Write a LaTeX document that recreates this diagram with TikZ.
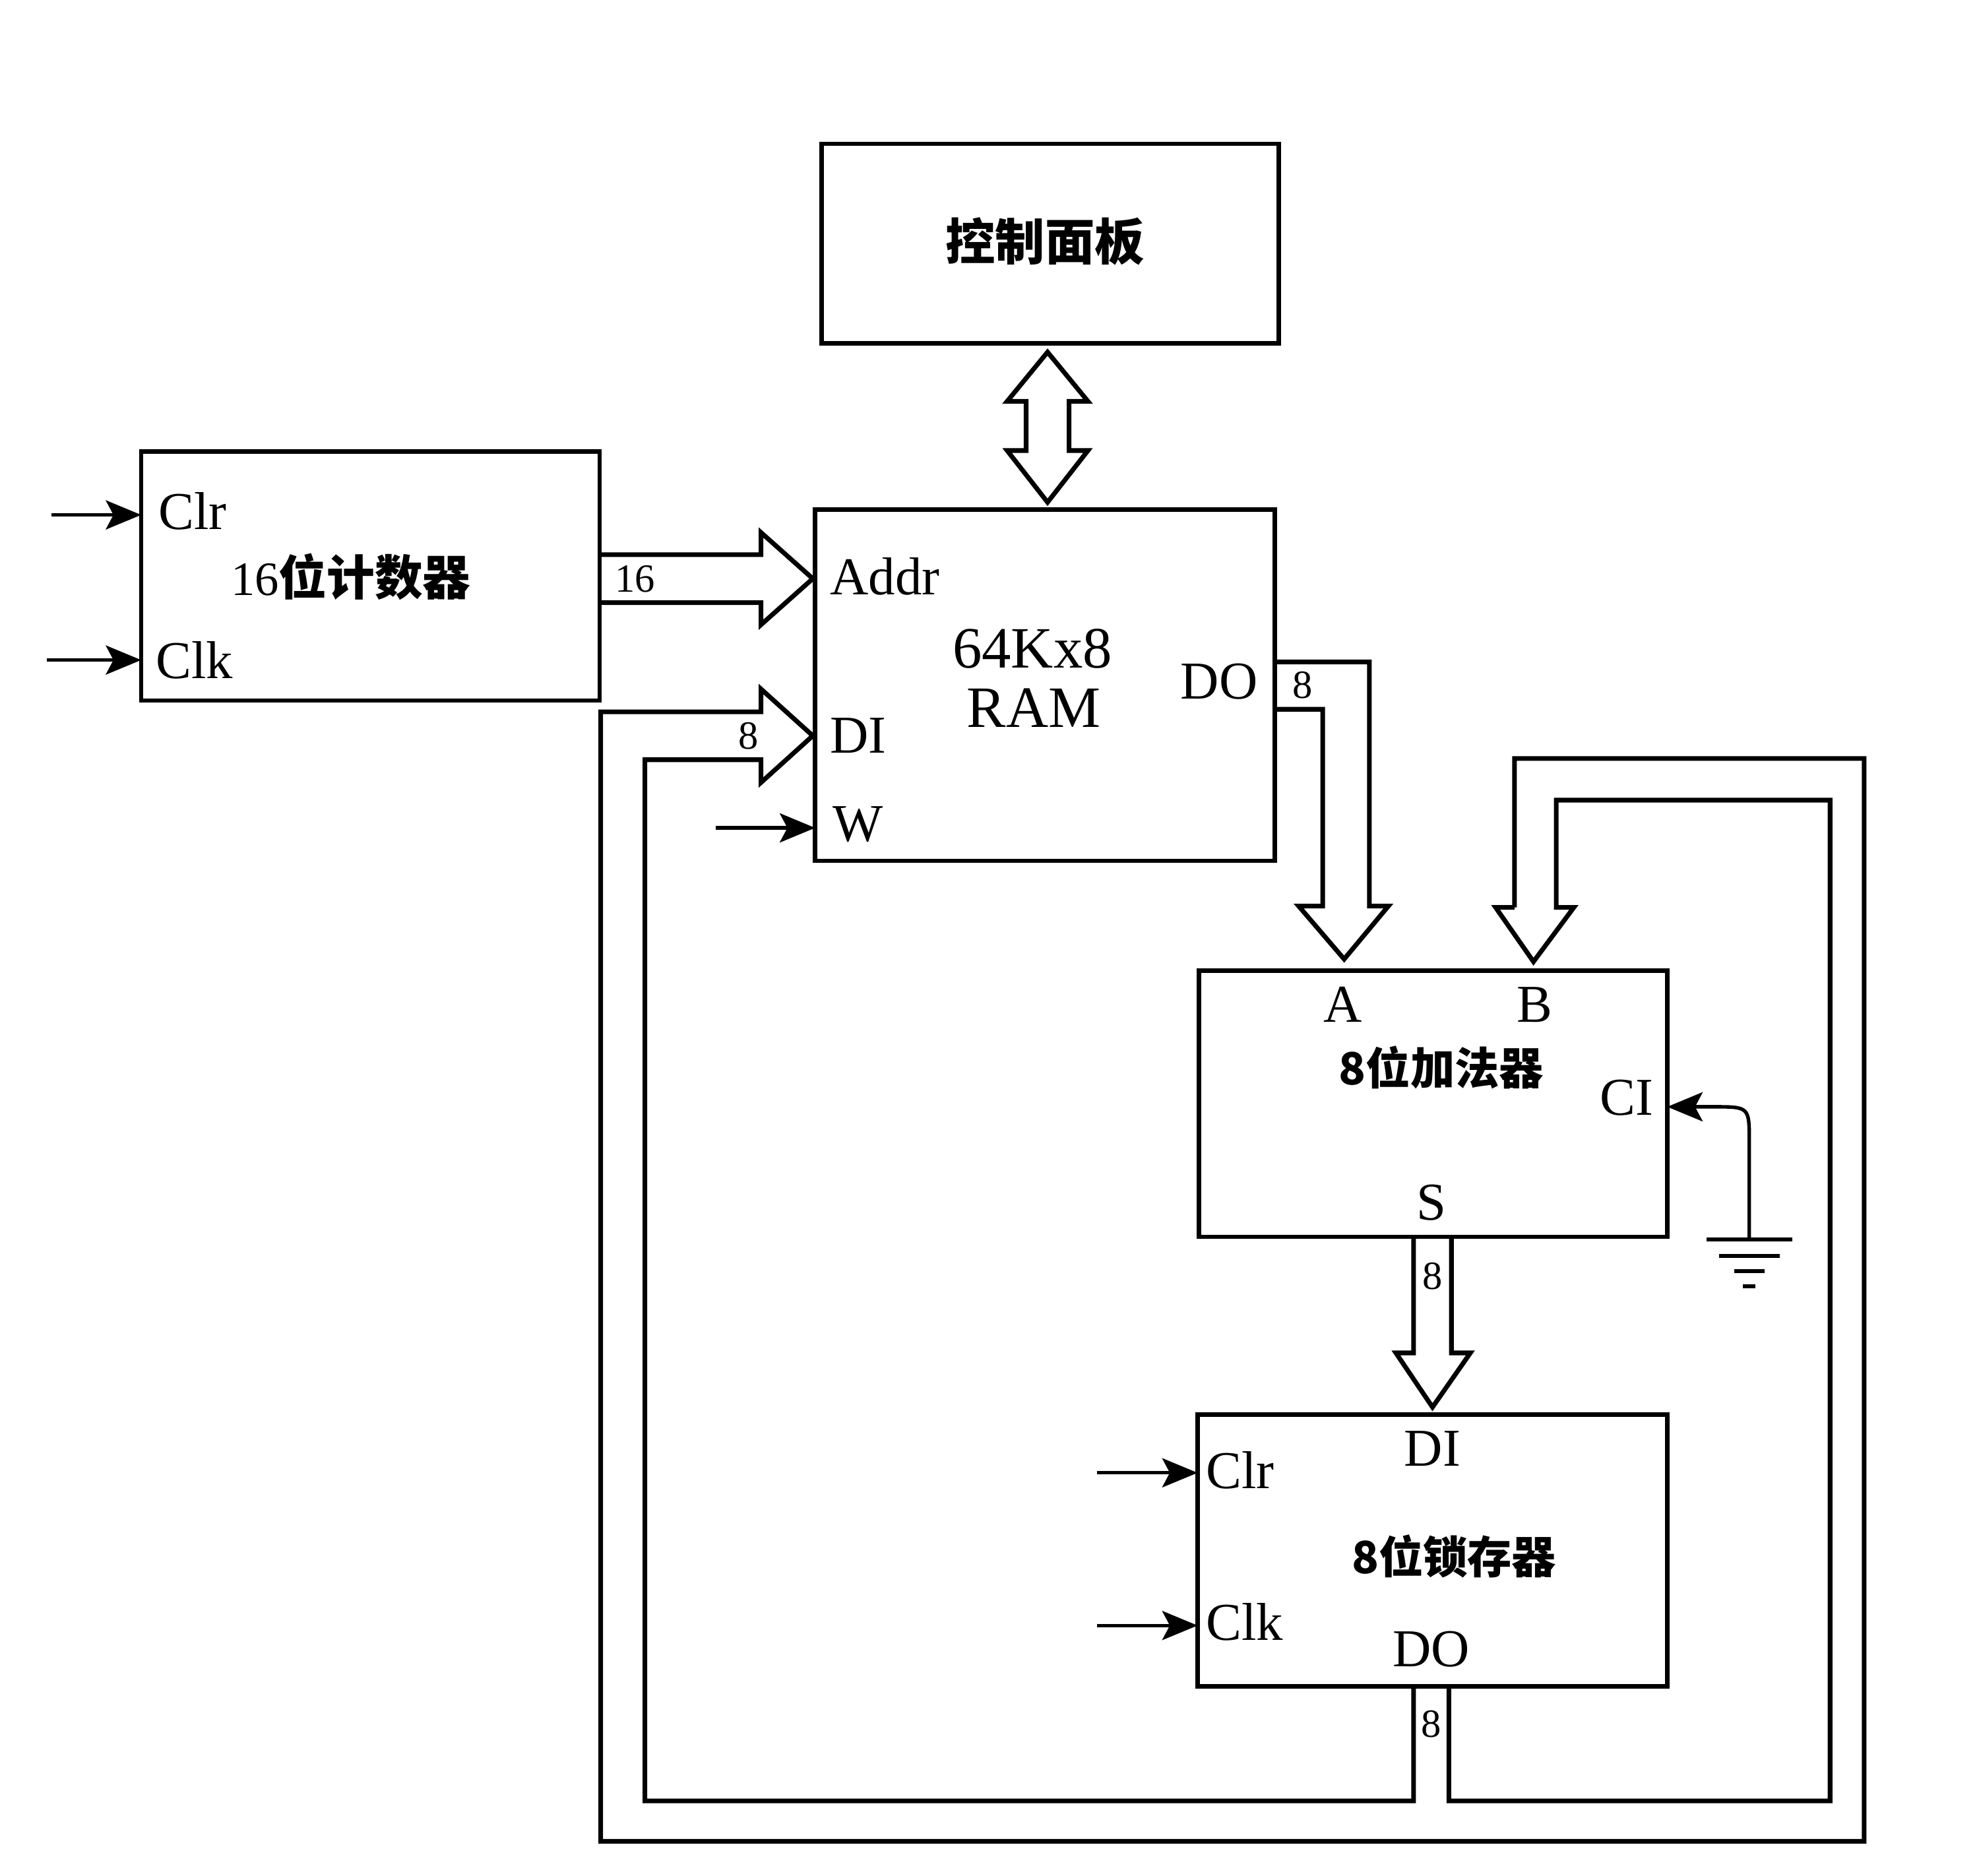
\documentclass[tikz,border=0pt]{standalone}
\usepackage{fontspec}
\setmainfont{Liberation Serif}
\newfontfamily\cjk{Noto Sans CJK SC}
\usetikzlibrary{arrows.meta}

\begin{document}
\begin{tikzpicture}[x=0.01cm,y=-0.01cm,
  block/.style={draw,line width=1pt,inner sep=0pt,outer sep=0pt},
  bus/.style={draw,line width=1.05pt,line join=miter},
  sig/.style={line width=0.8pt,-{Stealth[length=2.8mm,width=2.3mm,inset=0.6mm]}},
  pin/.style={inner sep=0pt,font=\fontsize{12pt}{14pt}\selectfont},
  buswidth/.style={inner sep=0pt,font=\fontsize{9pt}{10pt}\selectfont},
  title/.style={inner sep=0pt,font=\cjk\bfseries\fontsize{10pt}{12pt}\selectfont}]

% page frame
\fill[white] (0,0) rectangle (1568,1486);
\useasboundingbox (0,0) rectangle (1568,1486);

% ---------- blocks ----------
\node[block,minimum width=3.62cm,minimum height=1.58cm] (panel) at (832,193) {};
\node[block,minimum width=3.63cm,minimum height=1.97cm] (counter) at (293.5,456.5) {};
\node[block,minimum width=3.64cm,minimum height=2.78cm] (ram) at (828,543) {};
\node[block,minimum width=3.71cm,minimum height=2.11cm] (adder) at (1135.5,874.5) {};
\node[block,minimum width=3.72cm,minimum height=2.15cm] (latch) at (1135,1228.5) {};

% ---------- block texts ----------
\node[inner sep=0pt,font=\cjk\bfseries\fontsize{11.2pt}{13pt}\selectfont] (paneltxt) at (828,191) {控制面板};
\node[inner sep=0pt,font=\fontsize{10.8pt}{13pt}\selectfont] (countertxt) at (278,457) {16{\cjk\bfseries 位计数器}};
\node[inner sep=0pt,font=\fontsize{13.2pt}{15pt}\selectfont] (ramtxt1) at (818,514) {64Kx8};
\node[inner sep=0pt,font=\fontsize{13.2pt}{15pt}\selectfont] (ramtxt2) at (819,561) {RAM};
\node[title] (addertxt) at (1142,846) {8位加法器};
\node[title] (latchtxt) at (1152,1233) {8位锁存器};

% ---------- pin labels ----------
\node[pin,anchor=west] (cClr) at (125,405) {Clr};
\node[pin,anchor=west] (cClk) at (123,523) {Clk};
\node[pin,anchor=west] (rAddr) at (657,457) {Addr};
\node[pin,anchor=west] (rDI) at (657,583) {DI};
\node[pin,anchor=west] (rW) at (659,653) {W};
\node[pin] (rDO) at (966,540) {DO};
\node[pin] (aA) at (1064,796) {A};
\node[pin] (aB) at (1216,796) {B};
\node[pin] (aCI) at (1289,870) {CI};
\node[pin] (aS) at (1134,953) {S};
\node[pin] (lDI) at (1135,1148) {DI};
\node[pin,anchor=west] (lClr) at (955,1165) {Clr};
\node[pin,anchor=west] (lClk) at (955,1285) {Clk};
\node[pin] (lDO) at (1134,1307) {DO};

% ---------- single-line control inputs ----------
\coordinate (inCClr) at (41,408);
\coordinate (inCClk) at (37,523);
\coordinate (inW) at (567,656);
\coordinate (inLClr) at (869,1167);
\coordinate (inLClk) at (869,1288);
\draw[sig] (inCClr) -- (counter.west |- inCClr);
\draw[sig] (inCClk) -- (counter.west |- inCClk);
\draw[sig] (inW) -- (ram.west |- inW);
\draw[sig] (inLClr) -- (latch.west |- inLClr);
\draw[sig] (inLClk) -- (latch.west |- inLClk);

% ---------- bidirectional bus: control panel <-> RAM ----------
\draw[bus] (813,318) -- (798,318) -- (830,279) -- (862,318) -- (847,318)
  -- (847,357) -- (862,357) -- (830,398) -- (798,357) -- (813,357) -- cycle;

% ---------- address bus: counter -> RAM ----------
\draw[bus] (counter.east |- 0,439.5) -- (603,439.5) -- (603,422) -- (644,458.5)
  -- (603,495) -- (603,477.5) -- (counter.east |- 0,477.5);
\node[buswidth] (w16) at (503,459) {16};

% ---------- data output bus: RAM -> adder A ----------
\draw[bus] (ram.east |- 0,524.5) -- (1085,524.5) -- (1085,718) -- (1100,718)
  -- (1065,760) -- (1029,718) -- (1048,718) -- (1048,562) -- (ram.east |- 0,562);
\node[buswidth] (w8a) at (1032,543) {8};

% ---------- sum bus: adder -> latch ----------
\draw[bus] (1120,980) -- (1120,1072) -- (1106,1072) -- (1135,1115)
  -- (1165,1072) -- (1150,1072) -- (1150,980);
\node[buswidth] (w8b) at (1135,1011) {8};

% ---------- latch output bus, split to RAM DI and adder B ----------
\draw[bus] (1200,719) -- (1200,601) -- (1477,601) -- (1477,1459) -- (476,1459)
  -- (476,564) -- (603,564) -- (603,546) -- (644,583) -- (603,620) -- (603,602)
  -- (511,602) -- (511,1427) -- (1120,1427) -- (1120,1336);
\draw[bus] (1148,1336) -- (1148,1427) -- (1450,1427) -- (1450,634) -- (1233,634)
  -- (1233,719) -- (1247,719) -- (1215,762) -- (1185,719) -- (1200,719);
\node[buswidth] (w8c) at (593,583) {8};
\node[buswidth] (w8d) at (1134,1366) {8};

% ---------- carry input tied to ground ----------
\coordinate (gnd) at (1386,982);
\coordinate (ciIn) at (1321,877);
\draw[sig] (gnd) -- (1386,905) .. controls (1386,877) .. (1358,877) -- (ciIn);
\draw[line width=0.9pt] (1352,982) -- (1420,982)
  (1362,995) -- (1410,995)
  (1374,1007) -- (1398,1007)
  (1381,1019) -- (1391,1019);

\end{tikzpicture}
\end{document}
